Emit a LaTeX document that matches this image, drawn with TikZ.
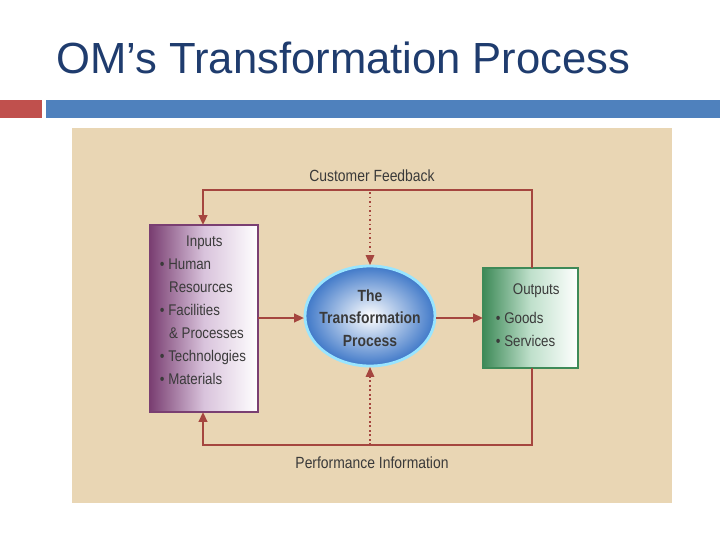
\documentclass[tikz,border=0pt]{standalone}
\usepackage{fontspec}
\setmainfont{Liberation Sans}
\newfontfamily\narrowsans{Liberation Sans}[FakeStretch=0.86]
\usetikzlibrary{positioning,arrows.meta,shapes.geometric}
\definecolor{titleblue}{HTML}{1F3C6E}
\definecolor{barred}{HTML}{C0504D}
\definecolor{barblue}{HTML}{4F81BD}
\definecolor{panel}{HTML}{E9D6B4}
\definecolor{flowred}{HTML}{A5463F}
\definecolor{inkgray}{HTML}{3A3A3A}
\definecolor{plum}{HTML}{7A3F72}
\definecolor{lilac}{HTML}{D9C3DC}
\definecolor{leaf}{HTML}{3E8A58}
\definecolor{mint}{HTML}{BFE0CB}
\definecolor{skyblue}{HTML}{3F78C8}

\tikzset{
  flow/.style={draw=flowred, line width=1.6pt, -{Triangle[length=7pt,width=6pt]}},
  info/.style={draw=flowred, line width=1.2pt, dotted, -{Triangle[length=7pt,width=6pt]}},
  box/.style={draw=none, align=left, text=inkgray, font=\narrowsans\fontsize{11}{16.3}\selectfont, inner sep=4pt},
  caption/.style={text=inkgray, font=\narrowsans\fontsize{11.5}{13}\selectfont}
}

\begin{document}
\begin{tikzpicture}[x=0.025cm, y=-0.025cm]
  % page and bars
  \useasboundingbox (0,0) rectangle (720,540);
  \fill[white] (0,0) rectangle (720,540);
  \fill[barred] (0,100) rectangle (42,118);
  \fill[barblue] (46,100) rectangle (720,118);
  \node[anchor=base west, text=titleblue, font=\fontsize{31}{34}\selectfont, inner sep=0pt]
    (title) at (56,73) {OM’s Transformation Process};

  % panel
  \fill[panel] (72,128) rectangle (672,503);

  % inputs
  \shade[left color=plum, right color=white, middle color=lilac, draw=plum, line width=1pt]
    (150,225) rectangle (258,412);
  \node[box, anchor=north west] (inputs) at (154,230)
    {\hspace*{1.7em}Inputs\\• Human\\\hspace*{0.6em}Resources\\• Facilities\\\hspace*{0.6em}\& Processes\\• Technologies\\• Materials};

  % transformation
  \shade[inner color=white, outer color=skyblue, draw=blue!25!cyan!40, line width=2pt]
    (370,316) ellipse (65 and 50);
  \node[align=center, text=inkgray, font=\narrowsans\bfseries\fontsize{11.5}{16}\selectfont, inner sep=0pt]
    (process) at (370,318) {The\\Transformation\\Process};
  \coordinate (ptop) at (370,265);
  \coordinate (pbot) at (370,367);
  \coordinate (pleft) at (304,318);
  \coordinate (pright) at (436,318);

  % outputs
  \shade[left color=leaf, right color=white, middle color=mint, draw=leaf, line width=1pt]
    (483,268) rectangle (578,368);
  \node[box, anchor=north west] (outputs) at (490,278)
    {\hspace*{1.1em}Outputs\\[4pt]• Goods\\• Services};

  % main flow
  \draw[flow] (258,318) -- (pleft);
  \draw[flow] (pright) -- (483,318);

  % feedback loops
  \coordinate (otop) at (532,268);
  \coordinate (obot) at (532,368);
  \coordinate (itop) at (203,225);
  \coordinate (ibot) at (203,412);
  \draw[flow] (otop) |- (203,190) -- (itop);
  \draw[flow] (obot) |- (203,445) -- (ibot);
  \draw[info] (370,192) -- (ptop);
  \draw[info] (370,445) -- (pbot);

  \node[caption] (feedback) at (372,176) {Customer Feedback};
  \node[caption] (perfinfo) at (372,463) {Performance Information};
\end{tikzpicture}
\end{document}
